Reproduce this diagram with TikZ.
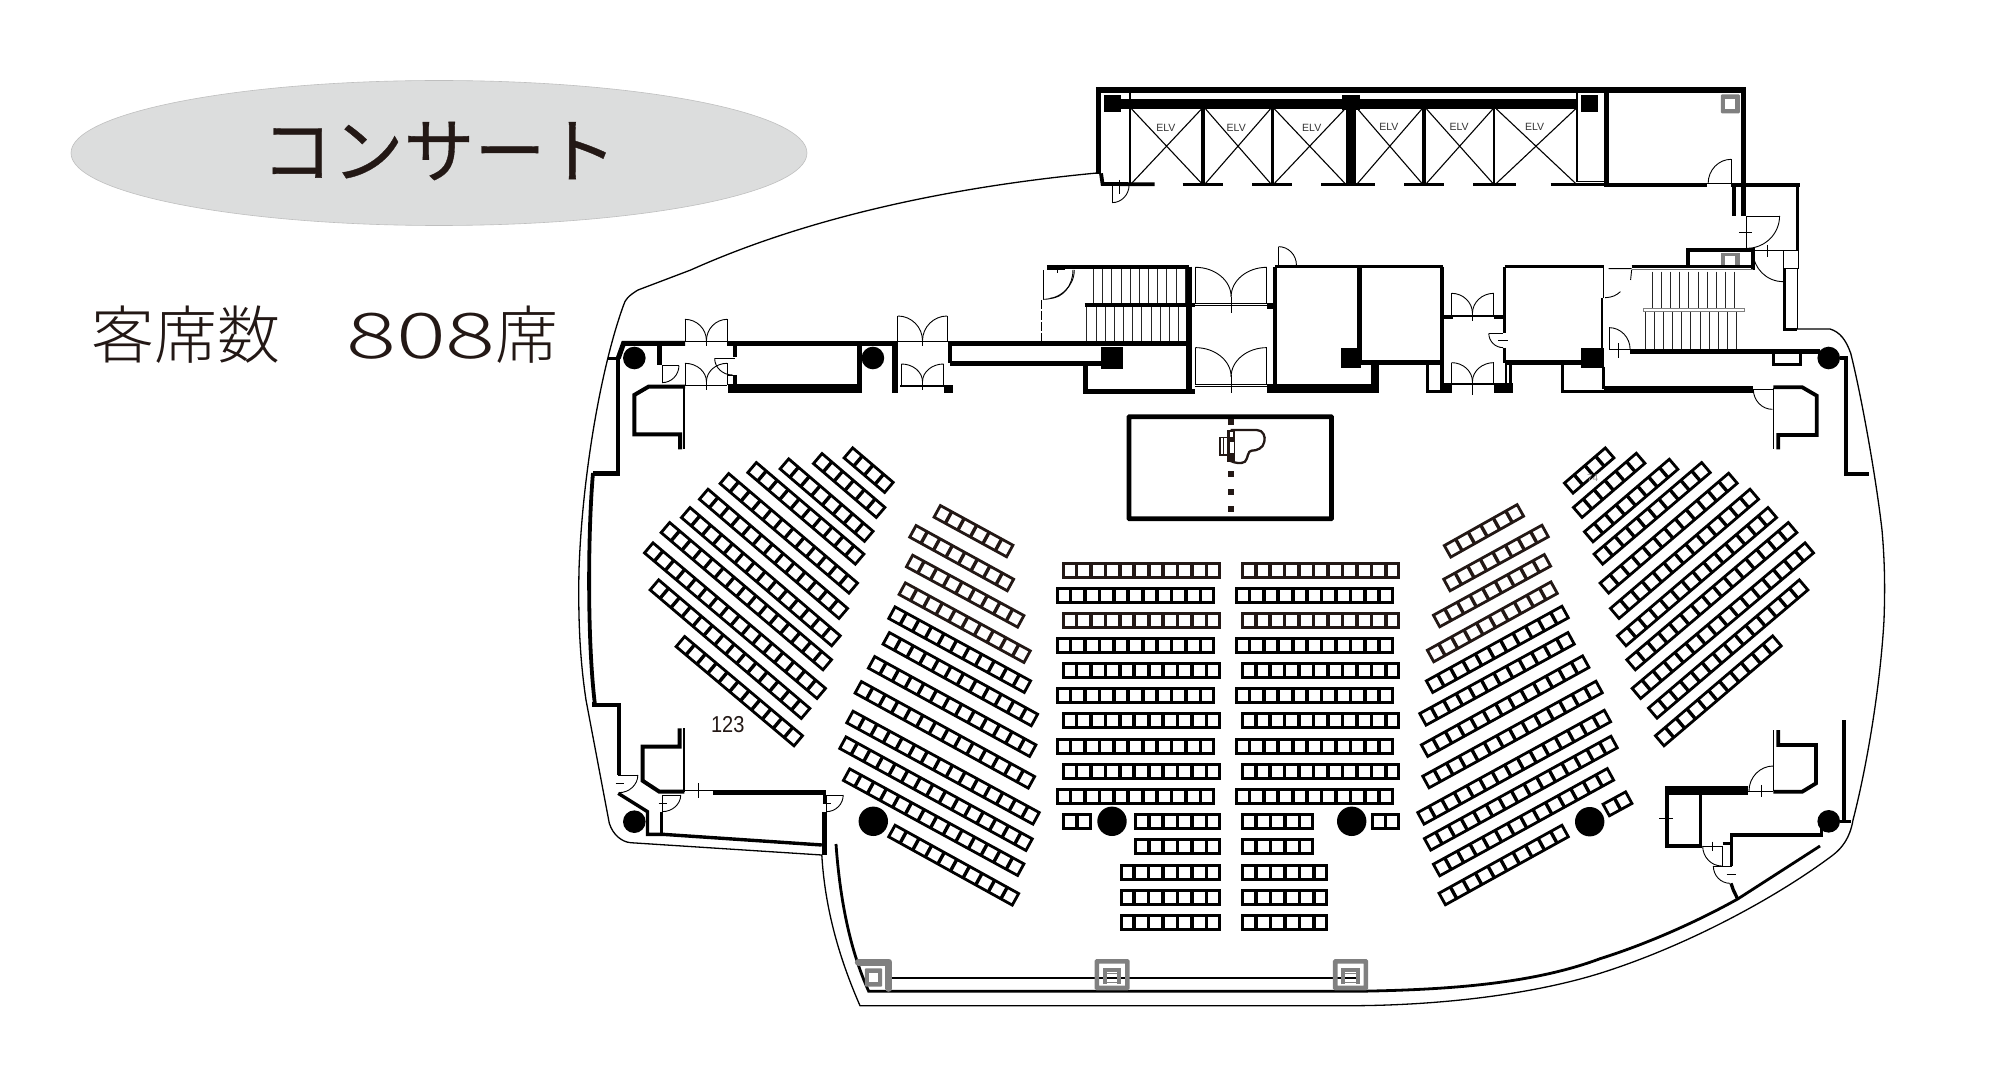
\documentclass[tikz,border=0pt]{standalone}
\usepackage{fontspec}
\usepackage{graphicx}
\usetikzlibrary{calc,shapes.geometric}
\setmainfont{Liberation Sans}
\newfontfamily\cjk[FakeBold=0.5]{Noto Sans CJK JP}
\newfontfamily\cjkl{Noto Sans CJK JP Light}
\definecolor{brn}{HTML}{231815}
\definecolor{gry}{HTML}{808080}
\definecolor{ell}{HTML}{DCDDDD}
\tikzset{
  w/.style={draw=black,line width=#1pt,line join=miter,line cap=butt},
  dl/.style={draw=black,line width=0.9pt},
  tn/.style={draw=black,line width=1.3pt},
  sl/.style={draw=black!85,line width=0.7pt},
  gr/.style={draw=gry,line width=#1pt},
  zm/.style n args={4}{shift={(#1,#2)},x=#3pt,y=-#4pt},
  elvtext/.style={font=\fontsize{10.5}{10.5}\selectfont,text=black!80,inner sep=0pt}
}
% quarter arc from a to b, tangent corner c
\newcommand\dq[6]{\draw[dl] (#1,#2) .. controls ($(#1,#2)!.55!(#3,#4)$) and ($(#5,#6)!.55!(#3,#4)$) .. (#5,#6);}
% seat rows
\def\ox{0}\def\oy{0}\def\zf{1}\def\sh{15.6}\def\sw{2.7}
\newcommand\srow[6][black]{%
  \pgfmathsetmacro\sxa{\ox+#2/\zf}\pgfmathsetmacro\sya{\oy+#3/\zf}%
  \pgfmathsetmacro\sxb{\ox+#4/\zf}\pgfmathsetmacro\syb{\oy+#5/\zf}%
  \pgfmathsetmacro\sang{atan2(\sya-\syb,\sxb-\sxa)}%
  \pgfmathsetmacro\slen{veclen(\sxb-\sxa,\syb-\sya)}%
  \pgfmathsetmacro\spit{\slen/#6}%
  \begin{scope}[shift={(\sxa,\sya)},rotate=\sang]
    \pgfmathsetmacro\hh{\sh/2-\sw/2}%
    \pgfmathsetmacro\ee{\slen-\sw/2}%
    \pgfmathsetmacro\ss{\sw/2}%
    \draw[draw=#1,line width=\sw pt] (\ss,-\hh) rectangle (\ee,\hh);
    \ifnum#6>1
    \foreach \k in {2,...,#6}{%
      \pgfmathsetmacro\xk{(\k-1)*\spit}%
      \draw[draw=#1,line width=\sw pt+0.6pt] (\xk,-\hh) -- (\xk,\hh);}
    \fi
  \end{scope}%
}
\begin{document}
\begin{tikzpicture}[x=1pt,y=-1pt]
\useasboundingbox (0,0) rectangle (2000,1086);
\fill[white] (0,0) rectangle (2000,1086);
% ---------- title
\node[ellipse,draw=black!25,line width=0.6pt,fill=ell,minimum width=736pt,minimum height=145pt,inner sep=0pt] (oval) at (439,153) {};
\node[font=\cjk\fontsize{71}{71}\selectfont,text=brn,inner sep=0pt] (title) at (439,151) {コンサート};
\node[font=\cjkl\fontsize{63}{63}\selectfont,text=brn,inner sep=0pt,anchor=west] (count) at (91,335) {客席数\hspace{66pt}\scalebox{1.48}[1]{808}席};
% ---------- outer building line
\draw[tn] (1097,173) .. controls (970,185) and (820,212) .. (690.7,270) -- (638,290)
  .. controls (628,296) and (625,300) .. (623.6,305)
  .. controls (600,370) and (582,480) .. (579,570)
  .. controls (578,620) and (580,660) .. (586,700)
  -- (609.3,823.3) .. controls (613,835) and (622,842) .. (630.7,842.7) -- (821.8,855);
\draw[tn] (821.8,855) .. controls (825,910) and (840,960) .. (860,1005.7) -- (1356,1005.7)
  .. controls (1440,1005) and (1530,995) .. (1600,973.3)
  .. controls (1690,945) and (1780,895) .. (1833,855)
  .. controls (1842,848) and (1850,838) .. (1853,820)
  .. controls (1866,770) and (1880,690) .. (1884,620)
  .. controls (1885,590) and (1885,565) .. (1882,530)
  .. controls (1875,470) and (1860,390) .. (1850.7,353.3)
  .. controls (1846,340) and (1840,332) .. (1830,329) -- (1797,329);
% left curved wall
\draw[w=3.8] (593,473) .. controls (588,530) and (587,640) .. (595,705);
% lower curved inner wall
\draw[w=2.8] (836,844) .. controls (840,900) and (850,950) .. (868.7,991.3) -- (1356,991.3)
  .. controls (1440,990) and (1530,985) .. (1600,958.7)
  .. controls (1650,943) and (1700,920) .. (1737.7,899) -- (1820,846);
\draw[w=2.6] (885,978) -- (1358,978);
% ---------- zoom 1 : core
\begin{scope}[zm={1050}{70}{.5102}{.3333}]
  \draw[w=5.2] (90,60)--(1365,60);
  \draw[w=5] (95,60)--(95,312);
  \draw[w=5] (1360,60)--(1360,438);
  \draw[w=5.5] (1091,60)--(1091,350);
  \draw[w=3.8] (100,310)--(103,342)--(205,343);
  \draw[w=1.3] (157,60)--(157,340) (1033,60)--(1033,335)--(1090,335) (157,68)--(1033,68);
  \fill (105,87) rectangle (1035,117);
  \fill (105,75) rectangle (140,127);
  \fill (1040,75) rectangle (1075,127);
  \fill (572,75) rectangle (607,120);
  \fill (580,117) rectangle (600,343);
  \draw[w=3.8] (300,117)--(300,343) (436,117)--(436,343) (733,117)--(733,343);
  \draw[w=2] (871,117)--(871,343);
  \foreach \a/\b in {160/297,305/432,440/578,603/729,738/868,875/1030}{
    \draw[w=1.1] (\a,117)--(\b,340) (\b,117)--(\a,340);}
  \node[elvtext] (elv1) at (227,175) {ELV};
  \node[elvtext] (elv2) at (365,173) {ELV};
  \node[elvtext] (elv3) at (513,173) {ELV};
  \node[elvtext] (elv4) at (664,172) {ELV};
  \node[elvtext] (elv5) at (802,172) {ELV};
  \node[elvtext] (elv6) at (950,172) {ELV};
  \draw[w=2.4] (260,343)--(340,343) (396,343)--(475,343) (532,343)--(637,343) (694,343)--(773,343) (830,343)--(913,343) (981,343)--(1090,343);
  \draw[w=4.5] (1090,345)--(1288,345);
  \draw[dl] (1335,268)--(1335,340) (1288,340)--(1335,340);
  \dq{1335}{268}{1290}{268}{1290}{340}
  \draw[dl] (122,345)--(122,398) (122,345)--(155,345) (137,330)--(137,372);
  \dq{155}{345}{155}{398}{122}{398}
  % grey shafts
  \fill[gry,rounded corners=1pt] (1315,73) rectangle (1352,130);
  \fill[white] (1323,87) rectangle (1343,117);
  \fill[gry] (1315,548) rectangle (1352,588);
  \fill[white] (1323,557) rectangle (1343,588);
  % right service
  \draw[w=3.8] (1335,345)--(1470,345);
  \draw[w=3.8] (1465,345)--(1465,542);
  \draw[w=3.8] (1340,345)--(1340,438);
  \draw[dl] (1366,438)--(1366,540) (1366,438)--(1430,438) (1350,487)--(1376,487);
  \dq{1430}{438}{1430}{535}{1366}{535}
  \draw[w=3.8] (1250,585)--(1250,540)--(1378,540)--(1378,600);
  \draw[dl] (1378,540)--(1468,540) (1407,525)--(1407,560);
  \dq{1378}{545}{1378}{635}{1437}{635}
  \draw[w=1] (1438,543) rectangle (1468,597);
  \draw[w=3] (1440,597)--(1440,778)--(1465,778);
  \draw[w=1.2] (1465,597)--(1465,778);
  \draw[w=3.6] (1140,590)--(1378,590);
  \draw[draw=black!55,line width=1pt] (1140,599)--(1378,599);
  \draw[dl] (1095,596)--(1140,596) (1140,600)--(1138,630);
  \draw[dl] (1088,683) .. controls (1103,682) and (1110,676) .. (1118,665);
  \foreach \x in {1180,1198,...,1345}{\draw[sl] (\x,605)--(\x,715);}
  \foreach \x in {1166,1184,...,1360}{\draw[sl] (\x,727)--(\x,838);}
  \draw[draw=black!50,line width=1pt] (1163,716) rectangle (1361,725);
  % left stair
  \draw[w=4] (-6,590)--(272,590);
  \fill (45,590) circle [x radius=5,y radius=3.5];
  \draw[dl] (-6,597)--(30,597) (14,585)--(14,608);
  \dq{45}{600}{45}{685}{0}{685}
  \foreach \x in {85,103,...,265}{\draw[sl] (\x,597)--(\x,700);}
  \foreach \x in {72,90,...,265}{\draw[sl] (\x,712)--(\x,812);}
  \draw[w=3.6] (68,705)--(285,705);
  \draw[w=5.3] (0,820)--(275,820);
  \draw[w=4.6] (0,880)--(105,880);
  \fill (100,830) rectangle (143,897);
  \draw[w=4.5] (70,880)--(70,965)--(285,965);
  \draw[w=5.5] (272,590)--(272,965);
  % double doors
  \draw[dl] (285,592)--(285,700) (425,592)--(425,700) (285,700)--(430,700) (285,707)--(430,707) (355,680)--(355,728);
  \dq{285}{592}{355}{592}{355}{680}
  \dq{425}{592}{355}{592}{355}{680}
  \fill (425,700) rectangle (443,716);
  \draw[dl] (285,833)--(285,945) (425,833)--(425,945) (285,942)--(425,942) (285,948)--(425,948) (355,915)--(355,970);
  \dq{285}{833}{355}{833}{355}{920}
  \dq{425}{833}{355}{833}{355}{920}
  % rooms
  \draw[w=4.4] (441,590)--(441,965);
  \draw[w=3.6] (441,590)--(770,590);
  \draw[dl] (448,530)--(448,585)--(483,585);
  \dq{448}{530}{483}{530}{483}{585}
  \draw[w=5] (606,590)--(606,878);
  \draw[w=4.5] (768,590)--(768,885);
  \draw[w=5] (606,878)--(768,878);
  \fill (570,835) rectangle (610,893);
  \fill (425,942) rectangle (645,970);
  \fill (630,885) rectangle (645,970);
  \draw[w=4] (768,885)--(768,968);
  \draw[w=3] (740,885)--(740,965)--(785,965);
  \fill (768,940) rectangle (787,970);
  \fill (768,735) rectangle (790,747);
  \fill (870,735) rectangle (892,747);
  \draw[w=2] (787,738)--(870,738);
  \draw[dl] (787,670)--(787,738) (870,670)--(870,738) (828,725)--(828,752);
  \dq{787}{670}{828}{670}{828}{730}
  \dq{870}{670}{828}{670}{828}{730}
  \draw[dl] (787,878)--(787,942) (870,878)--(870,942) (828,930)--(828,975);
  \draw[w=1.3] (787,942)--(870,942);
  \dq{787}{878}{828}{878}{828}{935}
  \dq{870}{878}{828}{878}{828}{935}
  \fill (870,940) rectangle (907,970);
  \draw[w=3] (903,885)--(903,970) ;
  \draw[w=2.2] (893,885)--(893,970);
  \draw[w=3.6] (891,590)--(1085,590);
  \draw[w=2.4] (891,590)--(891,790) (891,833)--(891,878);
  \draw[w=1.5] (1085,590)--(1085,683);
  \draw[w=2.4] (1082,683)--(1082,850);
  \draw[dl] (888,790)--(860,790) (878,810)--(897,810);
  \dq{860}{790}{860}{833}{888}{833}
  \draw[w=5] (891,878)--(1045,878);
  \fill (1040,835) rectangle (1085,893);
  \draw[w=2.8] (1005,885)--(1005,965)--(1085,965);
  \draw[w=3.4] (1085,890)--(1085,958);
  \draw[w=7] (1085,958)--(1378,958);
  \draw[dl] (1096,773)--(1096,838)--(1137,838) (1115,820)--(1115,865);
  \dq{1096}{773}{1137}{773}{1137}{838}
  \draw[w=4.6] (1137,845)--(1510,845);
\end{scope}
% ---------- zoom 4
\begin{scope}[zm={1600}{330}{.3333}{.3333}]
  \draw[w=3] (520,72)--(520,103)--(603,103)--(603,72);
  \draw[w=3.8] (720,83)--(737,83)--(737,432)--(808,432);
  \draw[dl] (460,178)--(520,178);
  \dq{460}{178}{460}{238}{517}{238}
  \draw[w=1.5] (520,175)--(520,358);
  \draw[w=3.8] (520,172)--(607,172)--(650,197)--(650,315)--(535,315)--(535,358);
\end{scope}
\fill (1828.7,358) circle (11.3);
\fill (634.3,358) circle (11.3);
\fill (872.9,358) circle (11.3);
\fill (1828.7,821.3) circle (11.3);
\fill (634.3,821.7) circle (11.3);
% ---------- zoom 5
\begin{scope}[zm={1600}{720}{.3333}{.3333}]
  \draw[w=1.5] (520,30)--(520,213);
  \draw[w=3.8] (535,30)--(535,75)--(648,75)--(648,190)--(607,215)--(520,215);
  \draw[dl] (445,213)--(520,213) (483,195)--(483,232);
  \dq{520}{138}{447}{138}{447}{213}
  \fill (195,198) rectangle (445,224);
  \draw[w=3.8] (200,205)--(200,377)--(305,377);
  \draw[dl] (177,296)--(218,296);
  \draw[w=3] (302,222)--(302,372);
  \draw[dl] (308,378)--(365,378) (337,365)--(337,392);
  \dq{308}{378}{308}{438}{365}{438}
  \draw[w=3] (368,372)--(395,372);
  \draw[w=3.6] (395,437)--(395,345)--(665,345)--(665,325);
  \draw[dl] (367,378)--(367,438) (340,438)--(395,438) (380,463)--(407,463);
  \dq{340}{438}{340}{490}{390}{490}
  \draw[w=3.8] (733,0)--(733,305);
  \draw[w=3] (720,305)--(752,305);
  \draw[w=3.3] (393,490)--(400,510)--(413,537);
\end{scope}
% ---------- zoom 2
\begin{scope}[zm={570}{270}{.35714}{.3333}]
  \draw[w=5] (135,265)--(150,220)--(322,220);
  \draw[w=5] (440,220)--(918,220);
  \draw[w=5] (1058,220)--(1568,220);
  \draw[w=3.6] (105,265)--(135,265);
  \draw[w=4.4] (135,262)--(135,610)--(65,610);
  % door pair A
  \draw[dl] (322,148)--(322,215) (440,148)--(440,215) (322,215)--(440,215) (382,205)--(382,228);
  \dq{322}{148}{382}{148}{382}{212}
  \dq{440}{148}{382}{148}{382}{212}
  \draw[dl] (322,280)--(322,345) (440,280)--(440,345) (322,345)--(440,345) (382,330)--(382,360);
  \dq{322}{280}{382}{280}{382}{335}
  \dq{440}{280}{382}{280}{382}{335}
  \draw[w=4.5] (250,225)--(250,285);
  \draw[dl] (258,287)--(305,287) (258,287)--(258,340);
  \dq{305}{287}{305}{338}{258}{338}
  \draw[w=4.5] (462,225)--(462,262) ;
  \draw[w=4.5] (462,315)--(462,345);
  \draw[dl] (405,265)--(462,265) (440,280)--(440,315)--(462,315);
  \dq{405}{265}{405}{315}{455}{315}
  \draw[w=4.5] (810,225)--(810,345);
  \fill (442,341) rectangle (818,370);
  % west room line
  \draw[w=5.5] (910,225)--(910,370);
  \draw[dl] (918,138)--(918,215) (1056,138)--(1056,215) (918,215)--(1056,215) (987,205)--(987,228);
  \dq{918}{138}{987}{138}{987}{212}
  \dq{1056}{138}{987}{138}{987}{212}
  \draw[dl] (928,282)--(928,345) (1046,282)--(1046,345) (987,330)--(987,360);
  \draw[w=1.6] (925,348)--(1050,348);
  \dq{928}{282}{987}{282}{987}{335}
  \dq{1046}{282}{987}{282}{987}{335}
  \draw[w=4.5] (1064,225)--(1064,280);
  \fill (1046,345) rectangle (1072,370);
  \draw[w=4.5] (1064,280)--(1490,280);
  \fill (1488,230) rectangle (1548,298);
  \draw[w=4.2] (1445,290)--(1445,365)--(1568,365);
  \draw[draw=black,line width=.8pt,dash pattern=on 9pt off 2pt] (1320,90)--(1320,215);
  \draw[dl] (1325,0)--(1325,88);
  \dq{1412}{0}{1412}{88}{1325}{88}
  % NW lobby
  \draw[w=4] (322,350)--(220,350)--(180,375)--(180,493)--(308,493)--(308,538);
  \draw[w=2] (320,350)--(320,538);
\end{scope}
% ---------- zoom 3
\begin{scope}[zm={570}{700}{.35714}{.3333}]
  \draw[w=4] (68,5)--(68,15)--(137,15)--(137,225);
  \draw[w=2] (320,85)--(320,275);
  \draw[w=4] (307,85)--(307,140)--(203,140)--(203,242)--(250,275)--(320,275);
  \draw[dl] (135,225)--(190,225) (128,250)--(152,250);
  \dq{190}{225}{190}{278}{137}{278}
  \draw[w=3.4] (135,280)--(217,335)--(217,403)--(260,403)--(705,435);
  \draw[w=2.6] (256,335)--(256,405);
  \draw[dl] (258,285)--(310,285) (248,310)--(272,310) (258,285)--(258,335);
  \dq{310}{285}{310}{335}{258}{335}
  \draw[dl] (320,272)--(400,272) (360,250)--(360,295);
  \draw[w=4.6] (400,278)--(718,278);
  \draw[w=3] (712,278)--(712,310);
  \draw[dl] (718,285)--(765,285) (707,310)--(730,310) (718,285)--(718,335);
  \dq{765}{285}{765}{335}{718}{335}
  \draw[w=4.6] (712,335)--(712,465);
\end{scope}
% ---------- shafts on the south wall
\begin{scope}[zm={840}{950}{.3827}{.3333}]
  \draw[gr=7,line cap=round,line join=round] (48,36)--(128,36)--(128,115);
  \fill[gry,rounded corners=1pt] (65,55) rectangle (110,110);
  \fill[white] (76,68) rectangle (100,97);
  \draw[gr=4.6,rounded corners=.5pt] (671,34) rectangle (751,114);
  \draw[gr=4] (692,102)--(692,60)--(730,60)--(730,102);
  \draw[w=2.3] (697,85)--(725,85);
  \draw[gr=1.5] (697,70)--(725,70) (697,97)--(725,97);
  \draw[gr=4.6,rounded corners=.5pt] (1294,34) rectangle (1374,114);
  \draw[gr=4] (1315,102)--(1315,60)--(1353,60)--(1353,102);
  \draw[w=2.3] (1320,85)--(1348,85);
  \draw[gr=1.5] (1320,70)--(1348,70) (1320,97)--(1348,97);
\end{scope}
% ---------- stage
\draw[draw=black,line width=4.7pt,rounded corners=.5pt] (1129,416.7) rectangle (1331.5,518.7);
\begin{scope}[zm={1120}{410}{.3333}{.3333}]
  \foreach \y in {37,193,245,297}{\fill[brn] (325,\y-9) rectangle (343,\y+9);}
  \draw[draw=brn,line width=2.3pt,fill=white] (335,60)--(410,60) .. controls (430,60) and (437,80) .. (433,95)
    .. controls (430,115) and (410,122) .. (395,122) .. controls (382,122) and (385,145) .. (375,155)
    .. controls (365,162) and (345,160) .. (330,152) -- cycle;
  \fill[brn] (322,60) rectangle (345,157);
  \fill[white] (331,66) rectangle (339,82);
  \fill[white] (331,95) rectangle (341,130);
  \draw[draw=brn,line width=1.5pt] (300,82) rectangle (322,135);
  \draw[draw=brn,line width=1pt] (310,84)--(310,133);
\end{scope}
% ---------- seats: centre block
\def\sh{17}\def\sw{3}
\foreach \yy/\cc in {570/brn,620/brn,670/black,720.7/black,771/black}{
  \srow[\cc]{1062}{\yy}{1221}{\yy}{11}
  \srow[\cc]{1241.3}{\yy}{1400.3}{\yy}{11}
}
\foreach \yy in {595.3,645.3,695.3,746,796.3}{
  \srow{1056}{\yy}{1215}{\yy}{11}
  \srow{1235}{\yy}{1393.7}{\yy}{11}
}
\srow{1062}{821.3}{1092}{821.3}{2}
\srow{1134.3}{821.3}{1221}{821.3}{6}
\srow{1241.3}{821.3}{1314}{821.3}{5}
\srow{1371}{821.3}{1400.3}{821.3}{2}
\srow{1134.3}{846.7}{1221}{846.7}{6}
\srow{1241.3}{846.7}{1314}{846.7}{5}
\foreach \yy in {872,897.3,922.3}{
  \srow{1119.7}{\yy}{1221}{\yy}{7}
  \srow{1241.3}{\yy}{1328.3}{\yy}{6}
}
\fill (1112,821.3) circle (14.7);
\fill (1351.7,821.3) circle (14.7);
\fill (873.3,821.3) circle (14.7);
\fill (1589.7,821.7) circle (14.7);
% ---------- seats: left centre wedge
\def\sh{16}\def\sw{2.8}\def\zf{3}
\def\ox{830}\def\oy{480}
\srow[brn]{318}{92}{543}{215}{6}
\srow[brn]{245}{152}{545}{317}{8}
\srow[brn]{235}{241}{576}{426}{9}
\srow[brn]{213}{324}{595}{532}{10}
\srow{182}{396}{596}{622}{11}
\srow{165}{473}{617}{722}{12}
\srow{121}{545}{612}{814}{13}
\srow{81}{620}{608}{909}{14}
\srow{56}{709}{622}{1017}{15}
\srow{35}{786}{601}{1096}{15}
\srow{46}{882}{576}{1171}{14}
\srow{182}{1051}{560}{1260}{10}
% ---------- seats: left outer wedge
\def\ox{630}\def\oy{430}
\srow{652}{66}{780}{175}{4}
\srow{560}{83}{755}{250}{6}
\srow{460}{99}{720}{322}{8}
\srow{363}{110}{692}{390}{10}
\srow{280}{143}{673}{477}{12}
\srow{218}{190}{643}{553}{13}
\srow{164}{245}{621}{635}{14}
\srow{103}{290}{595}{707}{15}
\srow{53}{351}{577}{793}{16}
\srow{70}{462}{530}{853}{14}
\srow{148}{632}{508}{935}{11}
% ---------- seats: right centre wedge
\def\ox{1410}\def\oy{490}
\srow[brn]{109}{186}{335}{59}{6}
\srow[brn]{107}{287}{409}{121}{8}
\srow[brn]{76}{395}{416}{209}{9}
\srow[brn]{58}{500}{436}{291}{10}
\srow{55}{592}{469}{364}{11}
\srow{35}{690}{487}{443}{12}
\srow{40}{784}{531}{513}{13}
\srow{44}{878}{571}{589}{14}
\srow{29}{987}{596}{676}{15}
\srow{49}{1065}{616}{754}{15}
\srow{76}{1142}{605}{851}{14}
\srow{93}{1229}{469}{1021}{10}
\srow{585}{962}{660}{921}{2}
% ---------- seats: right outer wedge
\def\ox{1560}\def\oy{430}
\srow{23}{177}{152}{66}{4}
\srow{50}{250}{245}{82}{6}
\srow{83}{323}{344}{100}{8}
\srow{112}{390}{441}{110}{10}
\srow{130}{477}{522}{142}{12}
\srow{161}{553}{586}{190}{13}
\srow{182}{635}{640}{245}{14}
\srow{210}{707}{701}{290}{15}
\srow{226}{793}{751}{351}{16}
\srow{275}{852}{734}{462}{14}
\srow{296}{935}{654}{630}{11}
% ---------- small labels
\node[font=\fontsize{23}{23}\selectfont,text=brn,inner sep=0pt] (lab123) at (727.7,725) {\scalebox{.87}[1]{123}};
\node[font=\fontsize{10}{10}\selectfont,text=black!45,inner sep=0pt] (lab74) at (1592.7,478) {74};
\end{tikzpicture}
\end{document}
